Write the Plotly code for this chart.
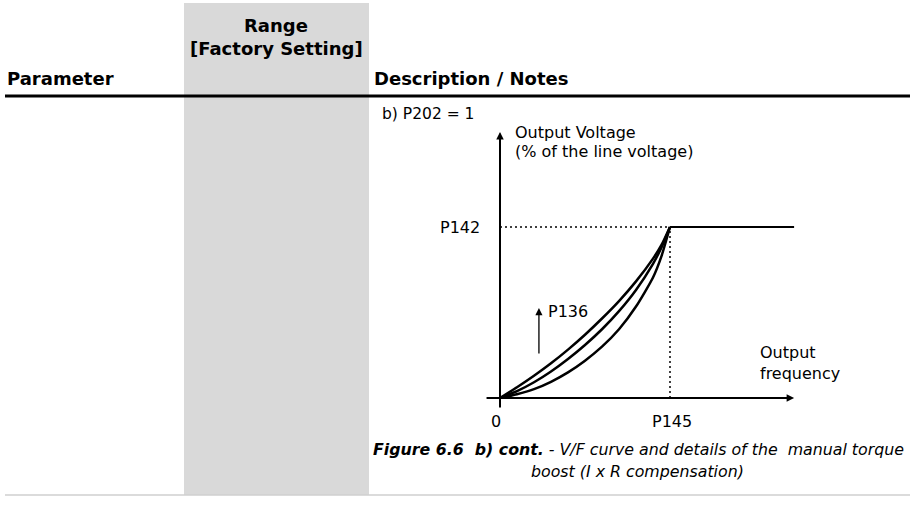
import plotly.graph_objects as go

W, H = 910, 507

# V/F curves: output frequency as a fraction of P145, output voltage as a fraction of P142
freq = [0, 0.1, 0.2, 0.3, 0.4, 0.5, 0.6, 0.7, 0.8, 0.9, 0.95, 1.0]
volt_high = [0, 0.063, 0.13, 0.203, 0.283, 0.37, 0.465, 0.567, 0.682, 0.815, 0.895, 1.0]
volt_mid = [0, 0.04, 0.092, 0.155, 0.228, 0.31, 0.402, 0.508, 0.632, 0.785, 0.88, 1.0]
volt_low = [0, 0.022, 0.052, 0.095, 0.15, 0.218, 0.3, 0.402, 0.535, 0.705, 0.83, 1.0]

# constant-voltage region above P145
plateau_freq = [1.0, 1.73]
plateau_volt = [1.0, 1.0]

# axis extents (frequency / voltage units)
x_axis_span = [-0.088, 1.73]
y_axis_span = [-0.064, 1.556]
boost_arrow = [0.229, 0.251, 0.526]  # x, tail y, head y

header_cols = ["Parameter", "Range<br>[Factory Setting]", "Description / Notes"]
intro_text = "b) P202 = 1"
y_title = ["Output Voltage", "(% of the line voltage)"]
x_title = ["Output", "frequency"]
caption = ["<b>Figure 6.6&nbsp;&nbsp;b) cont.</b> - V/F curve and details of the&nbsp;&nbsp;manual torque",
           "boost (I x R compensation)"]

# page geometry: origin of the diagram and its scale in pixels per unit
ORIGIN_PX, ORIGIN_PY = 500, 398
SX, SY = 170, 171
x_range = [-ORIGIN_PX / SX, (W - ORIGIN_PX) / SX]
y_range = [-(H - ORIGIN_PY) / SY, ORIGIN_PY / SY]


def px(x):
    return x / W


def py(y):
    return 1 - y / H


FONT = "DejaVu Sans"
INK = "#000000"

fig = go.Figure()

for v in (volt_high, volt_mid, volt_low):
    fig.add_trace(go.Scatter(x=freq, y=v, mode="lines",
                             line=dict(color=INK, width=2.5, shape="spline", smoothing=0.6),
                             hoverinfo="skip", showlegend=False))

fig.add_trace(go.Scatter(x=plateau_freq, y=plateau_volt, mode="lines",
                         line=dict(color=INK, width=2), hoverinfo="skip", showlegend=False))

shapes = [
    # shaded "Range" column
    dict(type="rect", xref="paper", yref="paper", x0=px(184), x1=px(369), y0=py(495), y1=py(3),
         fillcolor="#d9d9d9", line=dict(width=0), layer="below"),
    # header rule
    dict(type="line", xref="paper", yref="paper", x0=px(5), x1=1, y0=py(96), y1=py(96),
         line=dict(color=INK, width=3)),
    # closing rule
    dict(type="line", xref="paper", yref="paper", x0=px(5), x1=1, y0=py(495), y1=py(495),
         line=dict(color="#cfcfcf", width=1.5)),
    # dotted guides to P142 and P145
    dict(type="line", xref="x", yref="y", x0=0, x1=1, y0=1, y1=1,
         line=dict(color=INK, width=1.5, dash="2px,3px")),
    dict(type="line", xref="x", yref="y", x0=1, x1=1, y0=0, y1=1,
         line=dict(color=INK, width=1.5, dash="2px,3px")),
]

annotations = []


def arrow(x, y, ax, ay, width, size):
    annotations.append(dict(x=x, y=y, ax=ax, ay=ay, xref="x", yref="y", axref="x", ayref="y",
                            text="", showarrow=True, arrowhead=2, arrowwidth=width,
                            arrowsize=size, arrowcolor=INK, standoff=0, startstandoff=0))


# axes
arrow(x_axis_span[1], 0, x_axis_span[0], 0, 2, 0.75)
arrow(0, y_axis_span[1], 0, y_axis_span[0], 2, 0.75)
# torque boost direction
arrow(boost_arrow[0], boost_arrow[2], boost_arrow[0], boost_arrow[1], 1.3, 1.1)


def page_text(text, x, y, size, xanchor="left", bold=False):
    annotations.append(dict(text=f"<b>{text}</b>" if bold else text, x=px(x), y=py(y),
                            xref="paper", yref="paper", xanchor=xanchor, yanchor="middle",
                            showarrow=False, align="center",
                            font=dict(family=FONT, size=size, color=INK)))


def chart_text(text, x, y, xanchor="left", size=16):
    annotations.append(dict(text=text, x=x, y=y, xref="x", yref="y", xanchor=xanchor,
                            yanchor="middle", showarrow=False,
                            font=dict(family=FONT, size=size, color=INK)))


# table header
page_text(header_cols[0], 5, 78, 18, bold=True)
for i, line in enumerate(header_cols[1].split("<br>")):
    page_text(line, 276, 25 + 23 * i, 18, xanchor="center", bold=True)
page_text(header_cols[2], 372, 78, 18, bold=True)
page_text(intro_text, 380, 114, 15.5)

# diagram labels
chart_text(y_title[0], 0.076, 1.55)
chart_text(y_title[1], 0.076, 1.439)
chart_text("P142", -0.106, 1.0, xanchor="right")
chart_text("P136", 0.27, 0.503)
chart_text(x_title[0], 1.518, 0.269)
chart_text(x_title[1], 1.518, 0.146)
chart_text("0", -0.024, -0.135, xanchor="center")
chart_text("P145", 1.01, -0.135, xanchor="center")

# caption
page_text(f"<i>{caption[0]}</i>", 638, 449, 15.8, xanchor="center")
page_text(f"<i>{caption[1]}</i>", 637, 471, 15.8, xanchor="center")

fig.update_layout(
    width=W, height=H,
    margin=dict(l=0, r=0, t=0, b=0),
    paper_bgcolor="white", plot_bgcolor="white",
    xaxis=dict(range=x_range, domain=[0, 1], visible=False, fixedrange=True),
    yaxis=dict(range=y_range, domain=[0, 1], visible=False, fixedrange=True),
    shapes=shapes, annotations=annotations, showlegend=False,
)

fig.write_html("out.html", config={"displayModeBar": False})
